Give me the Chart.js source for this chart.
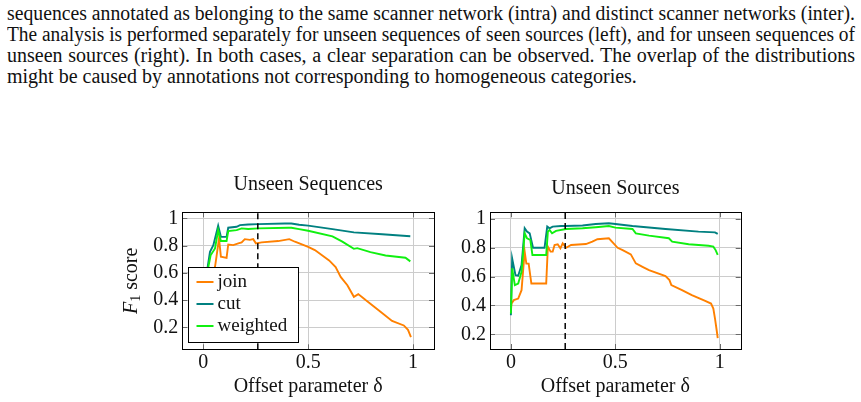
<!DOCTYPE html>
<html>
<head>
<meta charset="utf-8">
<script src="https://cdn.jsdelivr.net/npm/chart.js@4.4.0/dist/chart.umd.min.js"></script>
<style>
  html, body { margin: 0; padding: 0; background: #fff; }
  body { width: 861px; height: 402px; position: relative; overflow: hidden; font-family: "Liberation Serif", "Times New Roman", serif; color: #111; }
  .caption { position: absolute; left: 7px; top: 3px; width: 848px; font-size: 20px; line-height: 21px; }
  .caption div { white-space: nowrap; }
  .caption span { display: inline-block; transform-origin: 0 0; }
  canvas { position: absolute; }
  #seqChart { left: 100px; top: 160px; }
  #srcChart { left: 445px; top: 160px; }
</style>
</head>
<body>
<div class="caption">
  <div class="full"><span>sequences annotated as belonging to the same scanner network (intra) and distinct scanner networks (inter).</span></div>
  <div class="full"><span>The analysis is performed separately for unseen sequences of seen sources (left), and for unseen sequences of</span></div>
  <div class="full"><span>unseen sources (right). In both cases, a clear separation can be observed. The overlap of the distributions</span></div>
  <div><span>might be caused by annotations not corresponding to homogeneous categories.</span></div>
</div>
<canvas id="seqChart" width="345" height="242"></canvas>
<canvas id="srcChart" width="310" height="242"></canvas>
<script>
// ticks
const xTicks = [0, 0.5, 1];
const xTickLabels = ['0', '0.5', '1'];
const yTicks = [0.2, 0.4, 0.6, 0.8, 1];
const yTickLabels = ['0.2', '0.4', '0.6', '0.8', '1'];
const splitDelta = 0.26; // dashed marker

const seriesNames = ['join', 'cut', 'weighted'];
const seriesColors = ['#ff8000', '#008080', '#10f010'];

// Unseen Sequences (left)
const joinSeqX = [0, 0.02, 0.04, 0.056, 0.063, 0.075, 0.084, 0.111, 0.119, 0.143, 0.167, 0.183, 0.198, 0.222, 0.238, 0.251, 0.278, 0.357, 0.41, 0.437, 0.5, 0.532, 0.6, 0.631, 0.655, 0.687, 0.718, 0.739, 0.774, 0.845, 0.9, 0.956, 0.976, 0.99];
const joinSeqY = [0.30, 0.42, 0.55, 0.645, 0.72, 0.853, 0.72, 0.711, 0.809, 0.804, 0.817, 0.824, 0.848, 0.843, 0.848, 0.817, 0.824, 0.834, 0.848, 0.829, 0.792, 0.768, 0.692, 0.644, 0.571, 0.51, 0.425, 0.445, 0.401, 0.316, 0.248, 0.215, 0.183, 0.13];
const cutSeqX = [0, 0.01, 0.021, 0.032, 0.048, 0.071, 0.084, 0.111, 0.119, 0.159, 0.175, 0.214, 0.262, 0.389, 0.42, 0.457, 0.5, 0.616, 0.718, 0.853, 0.987];
const cutSeqY = [0.30, 0.50, 0.645, 0.755, 0.804, 0.946, 0.865, 0.865, 0.932, 0.939, 0.951, 0.956, 0.958, 0.963, 0.963, 0.954, 0.947, 0.922, 0.898, 0.884, 0.869];
const weightedSeqX = [0, 0.01, 0.021, 0.035, 0.056, 0.071, 0.084, 0.111, 0.119, 0.159, 0.183, 0.214, 0.262, 0.405, 0.42, 0.457, 0.5, 0.616, 0.663, 0.718, 0.734, 0.797, 0.869, 0.964, 0.987];
const weightedSeqY = [0.28, 0.45, 0.62, 0.73, 0.78, 0.914, 0.834, 0.834, 0.907, 0.914, 0.927, 0.922, 0.927, 0.932, 0.932, 0.922, 0.91, 0.869, 0.83, 0.777, 0.782, 0.753, 0.728, 0.712, 0.685];

// Unseen Sources (right)
const joinSrcX = [0, 0.003, 0.014, 0.035, 0.051, 0.062, 0.066, 0.074, 0.085, 0.098, 0.169, 0.177, 0.19, 0.2, 0.209, 0.224, 0.237, 0.248, 0.264, 0.288, 0.359, 0.39, 0.414, 0.469, 0.487, 0.511, 0.535, 0.574, 0.598, 0.63, 0.661, 0.74, 0.759, 0.768, 0.819, 0.866, 0.93, 0.958, 0.969, 0.977, 0.985, 0.99];
const joinSrcY = [0.36, 0.413, 0.437, 0.448, 0.506, 0.703, 0.773, 0.69, 0.69, 0.552, 0.552, 0.808, 0.773, 0.773, 0.819, 0.824, 0.796, 0.831, 0.8, 0.819, 0.826, 0.842, 0.859, 0.866, 0.838, 0.8, 0.784, 0.754, 0.692, 0.668, 0.645, 0.603, 0.576, 0.541, 0.506, 0.471, 0.432, 0.413, 0.379, 0.309, 0.228, 0.174];
const cutSrcX = [0, 0.006, 0.022, 0.035, 0.051, 0.066, 0.077, 0.09, 0.106, 0.161, 0.174, 0.185, 0.2, 0.24, 0.264, 0.343, 0.406, 0.469, 0.5, 0.582, 0.74, 0.898, 0.977, 0.99];
const cutSrcY = [0.332, 0.726, 0.61, 0.606, 0.68, 0.935, 0.912, 0.9, 0.8, 0.8, 0.947, 0.935, 0.947, 0.951, 0.951, 0.954, 0.965, 0.97, 0.965, 0.951, 0.93, 0.912, 0.907, 0.896];
const weightedSrcX = [0, 0.006, 0.019, 0.035, 0.051, 0.066, 0.077, 0.093, 0.103, 0.169, 0.177, 0.185, 0.197, 0.216, 0.264, 0.343, 0.406, 0.469, 0.5, 0.582, 0.598, 0.661, 0.756, 0.772, 0.851, 0.946, 0.969, 0.98, 0.99];
const weightedSrcY = [0.344, 0.657, 0.541, 0.552, 0.634, 0.9, 0.866, 0.854, 0.75, 0.75, 0.912, 0.923, 0.9, 0.917, 0.93, 0.935, 0.942, 0.951, 0.94, 0.93, 0.9, 0.884, 0.866, 0.842, 0.824, 0.814, 0.808, 0.784, 0.75];

const FONT = '"Liberation Serif", "Times New Roman", serif';
const TXT = '#111';

// caption: full lines are squeezed or spread to the 848px text width
document.querySelectorAll('.caption .full span').forEach(sp => {
  const w = sp.getBoundingClientRect().width;
  if (w > 848) {
    sp.style.transform = 'scaleX(' + (848 / w) + ')';
  } else {
    const gaps = sp.textContent.split(' ').length - 1;
    sp.style.wordSpacing = ((848 - w) / gaps) + 'px';
  }
});

function pts(xs, ys) {
  return xs.map((x, i) => ({ x: x, y: ys[i] }));
}

// box around the plot, small inner tick marks, inset legend, y label
const framePlugin = {
  id: 'frame',
  afterDatasetsDraw(chart, args, opts) {
    const { ctx, chartArea: a, scales: { x, y } } = chart;
    ctx.save();
    ctx.lineWidth = 1;
    ctx.strokeStyle = '#6a6a6a';
    ctx.beginPath();
    xTicks.forEach(v => {
      const px = Math.round(x.getPixelForValue(v)) + 0.5;
      ctx.moveTo(px, a.top); ctx.lineTo(px, a.top + 5);
      ctx.moveTo(px, a.bottom); ctx.lineTo(px, a.bottom - 5);
    });
    yTicks.forEach(v => {
      const py = Math.round(y.getPixelForValue(v)) + 0.5;
      ctx.moveTo(a.left, py); ctx.lineTo(a.left + 5, py);
      ctx.moveTo(a.right, py); ctx.lineTo(a.right - 5, py);
    });
    ctx.stroke();
    ctx.strokeStyle = '#000';
    ctx.strokeRect(Math.round(a.left) + 0.5, Math.round(a.top) + 0.5, Math.round(a.right - a.left), Math.round(a.bottom - a.top));

    if (opts.legend) {
      const bx = Math.round(a.left + 6) + 0.5, bw = 110, bh = 75;
      const by = Math.round(a.bottom - 7 - bh) + 0.5;
      ctx.fillStyle = '#fff';
      ctx.fillRect(bx, by, bw, bh);
      ctx.strokeStyle = '#000';
      ctx.strokeRect(bx, by, bw, bh);
      ctx.font = '19px ' + FONT;
      ctx.textBaseline = 'middle';
      ctx.textAlign = 'left';
      seriesNames.forEach((name, i) => {
        const cy = by + 14.5 + i * 22;
        ctx.strokeStyle = seriesColors[i];
        ctx.lineWidth = 2;
        ctx.beginPath();
        ctx.moveTo(bx + 8, cy); ctx.lineTo(bx + 25, cy);
        ctx.stroke();
        ctx.fillStyle = TXT;
        ctx.fillText(name, bx + 29, cy);
      });
    }
    ctx.restore();
  },
  afterDraw(chart, args, opts) {
    if (!opts.yLabel) return;
    const { ctx, chartArea: a } = chart;
    ctx.save();
    ctx.translate(a.left - 51, (a.top + a.bottom) / 2);
    ctx.rotate(-Math.PI / 2);
    ctx.fillStyle = TXT;
    ctx.textBaseline = 'middle';
    ctx.textAlign = 'left';
    const big = '20px ' + FONT, small = '14px ' + FONT;
    ctx.font = 'italic ' + big; const wF = ctx.measureText('F').width;
    ctx.font = small; const w1 = ctx.measureText('1').width;
    ctx.font = big; const wS = ctx.measureText(' score').width;
    let cx = -(wF + w1 + wS) / 2;
    ctx.font = 'italic ' + big; ctx.fillText('F', cx, 0); cx += wF;
    ctx.font = small; ctx.fillText('1', cx, 5); cx += w1;
    ctx.font = big; ctx.fillText(' score', cx, 0);
    ctx.restore();
  }
};

function makeChart(id, title, series, yMin, yMax, layout) {
  const datasets = series.map((s, i) => ({
    label: seriesNames[i],
    data: pts(s[0], s[1]),
    borderColor: seriesColors[i],
    borderWidth: 1.9,
    pointRadius: 0,
    tension: 0,
    fill: false,
    order: 3 - i
  }));
  datasets.push({
    label: 'split',
    data: pts([splitDelta, splitDelta], [yMin, yMax]),
    borderColor: '#000',
    borderWidth: 1.5,
    borderDash: [6, 4],
    pointRadius: 0,
    order: 0
  });
  return new Chart(document.getElementById(id), {
    type: 'line',
    data: { datasets: datasets },
    plugins: [framePlugin],
    options: {
      responsive: false,
      animation: false,
      layout: { padding: { left: 0, right: layout.padRight, top: 0, bottom: 0 } },
      plugins: {
        legend: { display: false },
        tooltip: { enabled: false },
        title: {
          display: true, text: title, color: TXT, fullSize: false,
          font: { family: FONT, size: 20, weight: 'normal' },
          padding: { top: layout.titleTop, bottom: layout.titleBottom }
        },
        frame: { legend: layout.legend, yLabel: layout.yLabel }
      },
      scales: {
        x: {
          type: 'linear', min: -0.1, max: 1.1,
          afterBuildTicks: s => { s.ticks = xTicks.map(v => ({ value: v })); },
          afterFit: s => { s.height = layout.xHeight; },
          grid: { color: '#cccccc', drawTicks: false },
          border: { display: false },
          ticks: {
            autoSkip: false, maxRotation: 0, padding: 1.5, color: TXT,
            font: { family: FONT, size: 20 },
            callback: (v, i) => xTickLabels[i]
          },
          title: {
            display: true, text: 'Offset parameter δ', color: TXT,
            font: { family: FONT, size: 20 },
            padding: { top: 0, bottom: 3 }
          }
        },
        y: {
          min: yMin, max: yMax,
          afterBuildTicks: s => { s.ticks = yTicks.map(v => ({ value: v })); },
          afterFit: s => { s.width = layout.yWidth; },
          grid: { color: '#cccccc', drawTicks: false },
          border: { display: false },
          ticks: {
            padding: 4, color: TXT,
            font: { family: FONT, size: 20 },
            callback: (v, i) => yTickLabels[i]
          }
        }
      }
    }
  });
}

makeChart('seqChart', 'Unseen Sequences',
  [[joinSeqX, joinSeqY], [cutSeqX, cutSeqY], [weightedSeqX, weightedSeqY]],
  0.04, 1.045,
  { padRight: 11, titleTop: 13, titleBottom: 15.3, xHeight: 52.7, yWidth: 82.3, legend: true, yLabel: true });

makeChart('srcChart', 'Unseen Sources',
  [[joinSrcX, joinSrcY], [cutSrcX, cutSrcY], [weightedSrcX, weightedSrcY]],
  0.098, 1.046,
  { padRight: 14.3, titleTop: 17, titleBottom: 11.3, xHeight: 53, yWidth: 45, legend: false, yLabel: false });
</script>
</body>
</html>
